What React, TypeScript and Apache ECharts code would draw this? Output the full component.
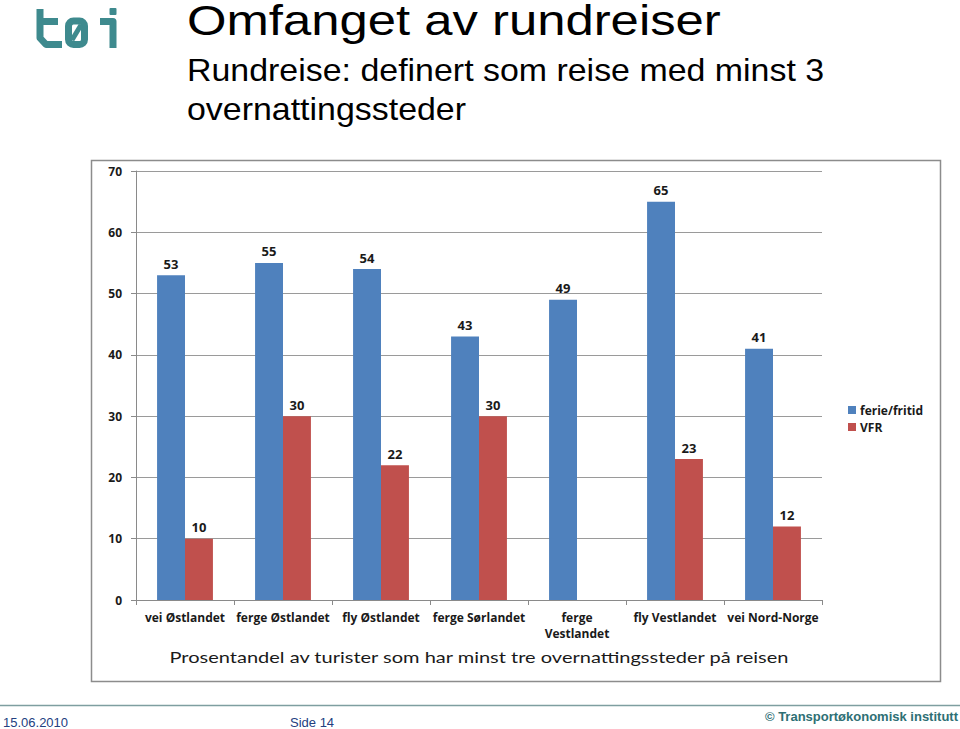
import React, { useEffect, useRef } from "react";
import * as echarts from "echarts";

const categories = [
  "vei Østlandet",
  "ferge Østlandet",
  "fly Østlandet",
  "ferge Sørlandet",
  "ferge\nVestlandet",
  "fly Vestlandet",
  "vei Nord-Norge",
];
const ferieFritid = [53, 55, 54, 43, 49, 65, 41];
const vfr: (number | null)[] = [10, 30, 22, 30, null, 23, 12];
const seriesNames = ["ferie/fritid", "VFR"];
const yTicks = { min: 0, max: 70, interval: 10 };

const TEAL = "#3e8a8e";

export default function App() {
  const ref = useRef<HTMLDivElement>(null);
  useEffect(() => {
    if (!ref.current) return;
    const chart = echarts.init(ref.current, null, { renderer: "svg" });
    const labelFont = { fontFamily: "Open Sans", fontWeight: "bold" as const, fontSize: 12, color: "#1a1a1a" };
    chart.setOption({
      animation: false,
      backgroundColor: "#ffffff",
      grid: { left: 136, right: 138, top: 171, bottom: 129, containLabel: false },
      legend: {
        orient: "vertical",
        left: 843,
        top: 399,
        itemWidth: 8,
        itemHeight: 8,
        itemGap: 5,
        icon: "rect",
        textStyle: { ...labelFont, fontSize: 12, padding: [0, 0, 0, -1] },
        data: seriesNames,
      },
      xAxis: {
        type: "category",
        data: categories,
        axisLine: { lineStyle: { color: "#8a8a8a" } },
        axisTick: { show: true, length: 5, lineStyle: { color: "#8a8a8a" } },
        axisLabel: { ...labelFont, margin: 9, interval: 0, lineHeight: 16 },
      },
      yAxis: {
        type: "value",
        min: yTicks.min,
        max: yTicks.max,
        interval: yTicks.interval,
        axisLine: { show: true, lineStyle: { color: "#8a8a8a" } },
        axisTick: { show: true, length: 5, lineStyle: { color: "#8a8a8a" } },
        axisLabel: { ...labelFont, fontSize: 12, margin: 14 },
        splitLine: { lineStyle: { color: "#9a9a9a" } },
      },
      series: [
        {
          name: seriesNames[0],
          type: "bar",
          data: ferieFritid,
          itemStyle: { color: "#4f81bd" },
          barGap: "0%",
          barCategoryGap: "43%",
          label: { show: true, position: "top", distance: 5, ...labelFont, fontSize: 13 },
        },
        {
          name: seriesNames[1],
          type: "bar",
          data: vfr,
          itemStyle: { color: "#c0504d" },
          label: { show: true, position: "top", distance: 5, ...labelFont, fontSize: 13 },
        },
      ],
      graphic: [
        {
          type: "rect",
          shape: { x: 91.5, y: 160.5, width: 849, height: 521 },
          style: { fill: "none", stroke: "#8c8c8c", lineWidth: 1.5 },
          z: -1,
        },
        {
          type: "text",
          x: 479,
          y: 657,
          scaleX: 1.25,
          style: {
            text: "Prosentandel av turister som har minst tre overnattingssteder på reisen",
            fontFamily: "Lato",
            fontSize: 16,
            fill: "#1a1a1a",
            align: "center",
            verticalAlign: "middle",
          },
        },
        // title
        {
          type: "text",
          x: 187,
          y: 21,
          scaleX: 1.21,
          style: {
            text: "Omfanget av rundreiser",
            fontFamily: "Liberation Sans",
            fontSize: 42,
            fill: "#000",
            verticalAlign: "middle",
          },
        },
        {
          type: "text",
          x: 187,
          y: 70,
          scaleX: 1.06,
          style: {
            text: "Rundreise: definert som reise med minst 3",
            fontFamily: "Liberation Sans",
            fontSize: 32,
            fill: "#000",
            verticalAlign: "middle",
          },
        },
        {
          type: "text",
          x: 187,
          y: 109,
          scaleX: 1.06,
          style: {
            text: "overnattingssteder",
            fontFamily: "Liberation Sans",
            fontSize: 32,
            fill: "#000",
            verticalAlign: "middle",
          },
        },
        // logo
        {
          type: "polyline",
          shape: { points: [[40, 9], [40, 38], [46, 44.5], [62, 44.5]] },
          style: { stroke: TEAL, lineWidth: 7, fill: "none", lineJoin: "round" },
        },
        {
          type: "line",
          shape: { x1: 37, y1: 21.5, x2: 58, y2: 21.5 },
          style: { stroke: TEAL, lineWidth: 7 },
        },
        {
          type: "rect",
          shape: { x: 68.5, y: 21, width: 16, height: 23.5, r: 5 },
          style: { fill: "none", stroke: TEAL, lineWidth: 7 },
        },
        {
          type: "line",
          shape: { x1: 72, y1: 40, x2: 81, y2: 25 },
          style: { stroke: TEAL, lineWidth: 5 },
        },
        {
          type: "polyline",
          shape: { points: [[100, 21.5], [113, 21.5], [113, 48]] },
          style: { stroke: TEAL, lineWidth: 7, fill: "none", lineJoin: "round" },
        },
        {
          type: "rect",
          shape: { x: 109.5, y: 8, width: 7, height: 7, r: 1 },
          style: { fill: TEAL },
        },
        // footer
        {
          type: "line",
          shape: { x1: 0, y1: 705.5, x2: 960, y2: 705.5 },
          style: { stroke: "#7e9ea0", lineWidth: 1.5 },
        },
        {
          type: "text",
          x: 3,
          y: 722,
          style: {
            text: "15.06.2010",
            fontFamily: "Liberation Sans",
            fontSize: 13,
            fill: "#23407f",
            verticalAlign: "middle",
          },
        },
        {
          type: "text",
          x: 290,
          y: 722,
          style: {
            text: "Side 14",
            fontFamily: "Liberation Sans",
            fontSize: 13,
            fill: "#23407f",
            verticalAlign: "middle",
          },
        },
        {
          type: "text",
          x: 958,
          y: 716,
          style: {
            text: "© Transportøkonomisk institutt",
            fontFamily: "Liberation Sans",
            fontWeight: "bold",
            fontSize: 13,
            fill: "#2e6f74",
            align: "right",
            verticalAlign: "middle",
          },
        },
      ],
    });
    return () => chart.dispose();
  }, []);
  return (
    <div
      ref={ref}
      style={{ position: "fixed", left: 0, top: 0, width: 960, height: 729, background: "#fff" }}
    />
  );
}
